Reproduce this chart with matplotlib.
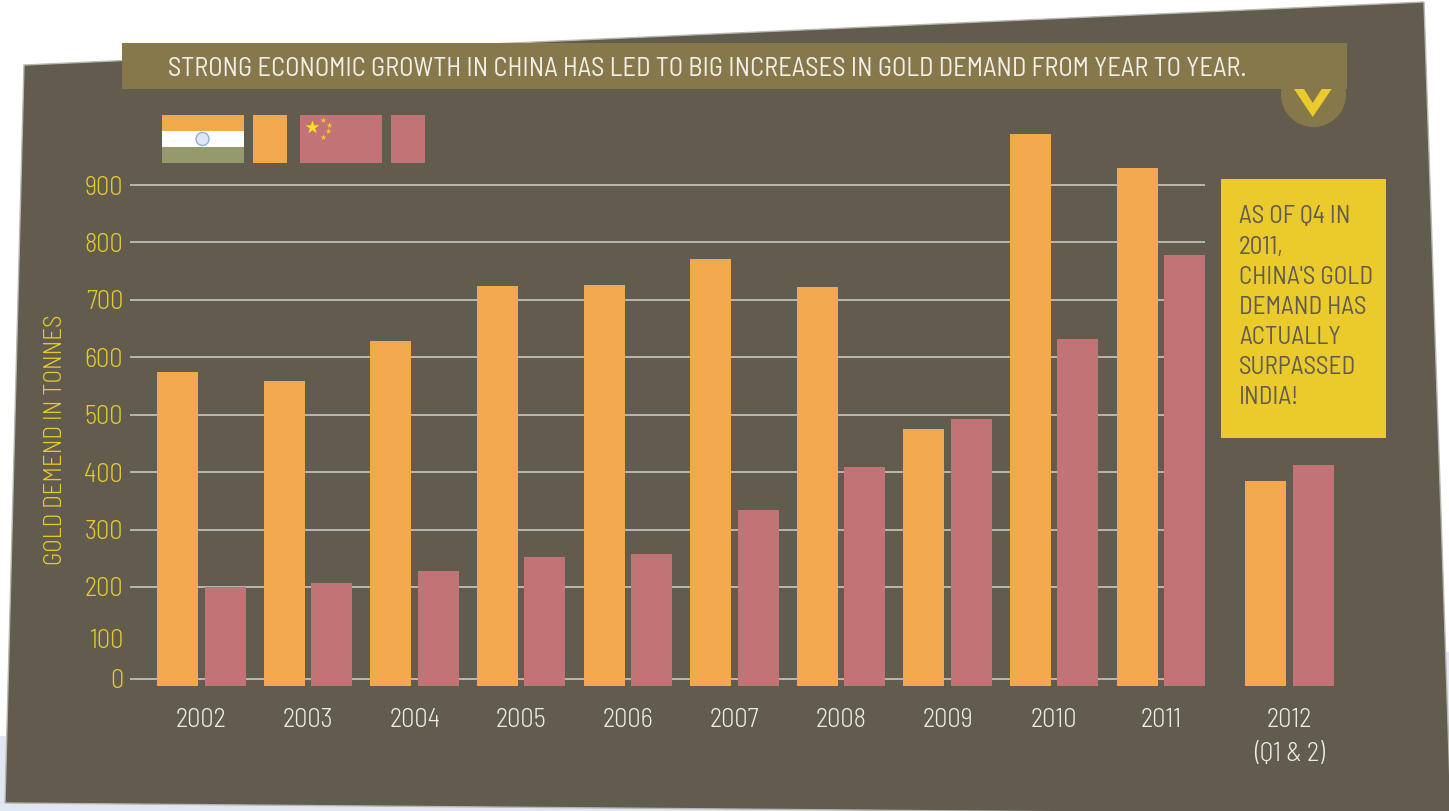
import numpy as np
import matplotlib
matplotlib.use('Agg')
import matplotlib.pyplot as plt
from matplotlib.patches import Polygon, Rectangle, Circle

years = ['2002', '2003', '2004', '2005', '2006', '2007', '2008', '2009', '2010', '2011', '2012\n(Q1 & 2)']
india = [574, 559, 628, 724, 726, 771, 722, 475, 989, 930, 385]
china = [200, 207, 228, 252, 257, 334, 409, 493, 632, 778, 412]
tick_labels = ['0', '100', '200', '300', '400', '500', '600', '700', '800', '900']

title_text = 'STRONG ECONOMIC GROWTH IN CHINA HAS LED TO BIG INCREASES IN GOLD DEMAND FROM YEAR TO YEAR.'
note_lines = ['AS OF Q4 IN', '2011,', "CHINA'S GOLD", 'DEMAND HAS', 'ACTUALLY', 'SURPASSED', 'INDIA!']

bg = '#625c4e'
band = '#87784c'
orange = '#f2a94d'
rose = '#c27375'
yellow = '#e6c92e'
box_yellow = '#ebcb2c'
narrow = ['Barlow Semi Condensed', 'Lato', 'DejaVu Sans']

W, H = 1449, 811
fig = plt.figure(figsize=(W / 100, H / 100), dpi=100, facecolor='white')

# backdrop in pixel coordinates
back = fig.add_axes([0, 0, 1, 1])
back.set_xlim(0, W)
back.set_ylim(H, 0)
back.axis('off')
back.add_patch(Polygon([(0, 736), (700, 736), (700, 652), (W, 652), (W, H), (0, H)], fc='#e0e7f2', ec='none'))
back.add_patch(Polygon([(24, 65), (1424, 2), (1451, 815), (5, 803)], fc=bg, ec='#b9b7b0', lw=1))
back.add_patch(Circle((1313.5, 94.5), 32.5, fc=band, ec='none'))
back.add_patch(Rectangle((122, 43), 1225, 46, fc=band, ec='none'))
back.add_patch(Polygon([(1294, 89), (1304, 89), (1312.7, 103), (1321.7, 89), (1331.7, 89), (1312.7, 117)],
                       fc=box_yellow, ec='none'))
back.text(168, 69, title_text, color='#f1efe8', fontsize=19, family=narrow, va='center', ha='left')

# legend flags
back.add_patch(Rectangle((162, 115), 82, 16, fc=orange, ec='none'))
back.add_patch(Rectangle((162, 131), 82, 16, fc='white', ec='none'))
back.add_patch(Rectangle((162, 147), 82, 16, fc='#95996c', ec='none'))
back.add_patch(Circle((202.5, 139), 6.5, fc='#dfe8f2', ec='#8fb0d6', lw=1))
back.add_patch(Rectangle((253, 115), 34, 48, fc=orange, ec='none'))
back.add_patch(Rectangle((300, 115), 82, 48, fc=rose, ec='none'))
back.add_patch(Rectangle((391, 115), 34, 48, fc=rose, ec='none'))
back.scatter([311.5], [127], marker='*', s=110, c='#f7de23', linewidths=0)
back.scatter([323, 328.5, 328, 323], [120, 124.5, 131, 136.5], marker='*', s=20, c='#f0c92c', linewidths=0)

# note box
back.add_patch(Rectangle((1221, 179), 165, 259, fc=box_yellow, ec='none'))
for i, line in enumerate(note_lines):
    back.text(1239, 217 + 30 * i, line, color=bg, fontsize=18, family=narrow, va='center', ha='left')

# chart
px_left, px_right, px_top, px_bottom = 130, 1345, 125, 686
ax = fig.add_axes([px_left / W, 1 - px_bottom / H, (px_right - px_left) / W, (px_bottom - px_top) / H])
ax.patch.set_alpha(0)
for s in ax.spines.values():
    s.set_visible(False)

# px per group is 106.6, the 2012 group sits a bit further out
x = np.array([0, 1, 2, 3, 4, 5, 6, 7, 8, 9, 10.206])
ax.set_xlim((px_left - 201.4) / 106.6, (px_right - 201.4) / 106.6)
ax.set_ylim(27.6, 1004.5)

# the original axis is squeezed below 200, so 0 and 100 do not sit on the scale
tick_pos = [39.8, 111, 200, 300, 400, 500, 600, 700, 800, 900]
grid_pos = [39.8, 200, 300, 400, 500, 600, 700, 800, 900]
ax.hlines(grid_pos, ax.get_xlim()[0], 9.41, color='#b9b7ae', lw=1.4, zorder=1)

ax.bar(x - 0.2225, np.array(india) - 27.6, 0.385, bottom=27.6, color=orange, zorder=2)
ax.bar(x + 0.2225, np.array(china) - 27.6, 0.385, bottom=27.6, color=rose, zorder=2)

ax.set_yticks(tick_pos)
ax.set_yticklabels(tick_labels, color=yellow, fontsize=19, family=narrow, fontweight=300)
ax.set_xticks(x)
ax.set_xticklabels(years, color='#eeece6', fontsize=19, family=narrow, fontweight=300, linespacing=1.5)
ax.tick_params(length=0)
ax.tick_params(axis='y', pad=5)
ax.tick_params(axis='x', pad=16)

back.text(56, 440, 'GOLD DEMEND IN TONNES', color=yellow, fontsize=18, family=narrow, fontweight=300,
          rotation=90, va='center', ha='center')

fig.savefig('out.png', dpi=100)
